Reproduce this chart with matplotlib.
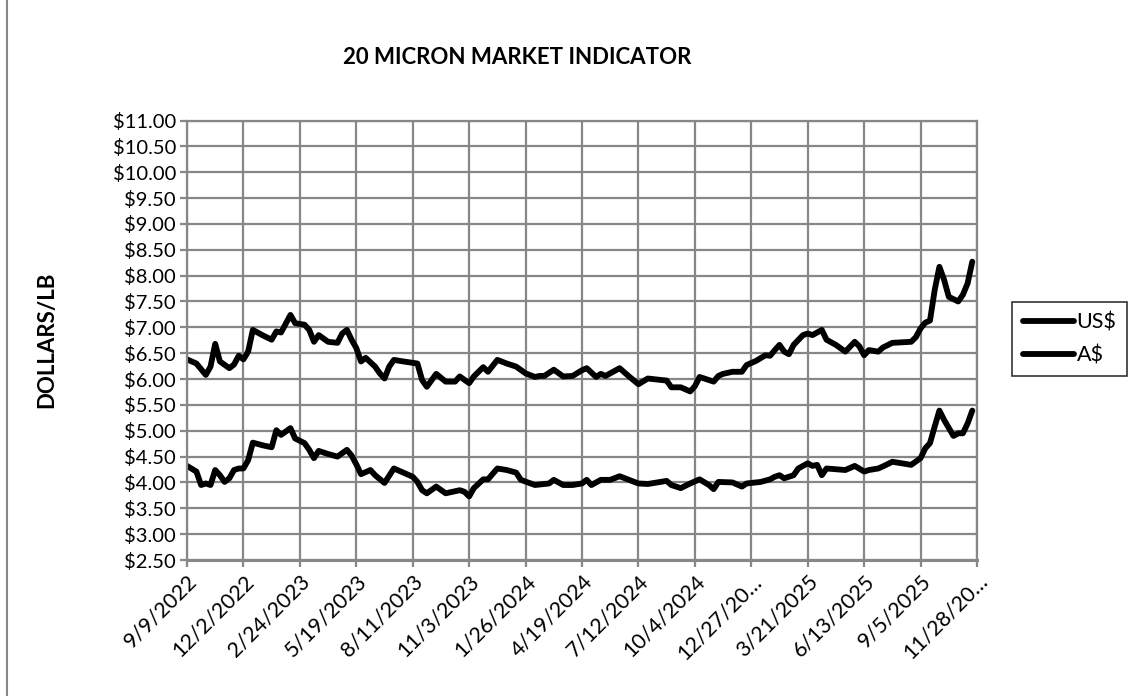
import matplotlib.pyplot as plt
from matplotlib.lines import Line2D
from matplotlib.transforms import ScaledTranslation

# week offsets from 9/9/2022 and prices (dollars per lb)
weeks_us = [0, 2, 3, 4, 5, 6, 7, 8, 9, 10, 11, 12, 13, 14, 16, 18, 19, 20, 22, 23,
            25, 26, 27, 28, 30, 32, 34, 35, 36, 37, 39, 40, 42, 44, 46, 48, 49, 50,
            51, 53, 55, 58, 59, 60, 61, 63, 64, 66, 68, 70, 71, 74, 77, 78, 80, 82,
            84, 85, 86, 88, 90, 92, 94, 96, 98, 100, 102, 103, 105, 107, 109, 111,
            112, 113, 116, 118, 119, 122, 124, 125, 126, 127, 129, 130, 132, 133,
            134, 135, 136, 140, 142, 144, 145, 147, 148, 150, 154, 156, 157, 158,
            159, 160, 161, 163, 164, 165, 166, 167]
us = [4.32, 4.21, 3.95, 3.98, 3.95, 4.24, 4.14, 4.01, 4.08, 4.24, 4.27, 4.27, 4.43,
      4.77, 4.72, 4.68, 5.01, 4.92, 5.05, 4.85, 4.76, 4.63, 4.47, 4.61, 4.55, 4.50,
      4.63, 4.52, 4.35, 4.16, 4.24, 4.14, 3.99, 4.27, 4.19, 4.11, 4.01, 3.85, 3.79,
      3.92, 3.79, 3.85, 3.82, 3.73, 3.89, 4.06, 4.06, 4.27, 4.24, 4.19, 4.05, 3.95,
      3.98, 4.05, 3.95, 3.95, 3.98, 4.05, 3.95, 4.05, 4.05, 4.12, 4.05, 3.98, 3.97,
      4.00, 4.03, 3.95, 3.89, 3.98, 4.06, 3.95, 3.87, 4.01, 4.00, 3.92, 3.98, 4.01,
      4.06, 4.11, 4.14, 4.08, 4.14, 4.27, 4.37, 4.32, 4.34, 4.14, 4.27, 4.24, 4.32,
      4.21, 4.24, 4.27, 4.31, 4.40, 4.34, 4.47, 4.66, 4.76, 5.08, 5.39, 5.21, 4.90,
      4.95, 4.95, 5.14, 5.39]

weeks_aud = [0, 2, 4, 5, 6, 7, 9, 10, 11, 12, 13, 14, 16, 18, 19, 20, 22, 23, 25,
             26, 27, 28, 30, 32, 33, 34, 35, 36, 37, 38, 40, 41, 42, 43, 44, 46, 49,
             50, 51, 53, 55, 57, 58, 60, 61, 63, 64, 66, 68, 70, 72, 74, 75, 76, 78,
             80, 82, 84, 85, 87, 88, 89, 92, 94, 96, 98, 102, 103, 105, 107, 108,
             109, 112, 113, 114, 116, 118, 119, 121, 123, 124, 125, 126, 127, 128,
             129, 131, 132, 133, 135, 136, 138, 140, 142, 143, 144, 145, 147, 148,
             150, 154, 155, 156, 157, 158, 159, 160, 161, 162, 164, 165, 166, 167]
aud = [6.38, 6.30, 6.08, 6.24, 6.68, 6.34, 6.21, 6.28, 6.45, 6.38, 6.53, 6.95, 6.85,
       6.76, 6.92, 6.90, 7.24, 7.08, 7.05, 6.95, 6.72, 6.85, 6.72, 6.70, 6.88, 6.95,
       6.76, 6.60, 6.34, 6.41, 6.24, 6.11, 6.01, 6.24, 6.37, 6.34, 6.30, 5.98, 5.85,
       6.10, 5.95, 5.95, 6.05, 5.92, 6.05, 6.23, 6.14, 6.37, 6.30, 6.24, 6.11, 6.04,
       6.06, 6.06, 6.18, 6.05, 6.06, 6.17, 6.21, 6.04, 6.10, 6.06, 6.21, 6.05, 5.90,
       6.01, 5.97, 5.84, 5.84, 5.76, 5.86, 6.04, 5.95, 6.06, 6.10, 6.14, 6.14, 6.27,
       6.35, 6.46, 6.45, 6.56, 6.66, 6.53, 6.48, 6.66, 6.85, 6.88, 6.85, 6.95, 6.76,
       6.66, 6.53, 6.72, 6.63, 6.46, 6.56, 6.53, 6.61, 6.70, 6.72, 6.81, 6.98, 7.09,
       7.13, 7.72, 8.17, 7.92, 7.59, 7.50, 7.63, 7.85, 8.27]

tick_weeks = [0, 12, 24, 36, 48, 60, 72, 84, 96, 108, 120, 132, 144, 156, 168]
tick_labels = ["9/9/2022", "12/2/2022", "2/24/2023", "5/19/2023", "8/11/2023",
               "11/3/2023", "1/26/2024", "4/19/2024", "7/12/2024", "10/4/2024",
               "12/27/20\u2026", "3/21/2025", "6/13/2025", "9/5/2025", "11/28/20\u2026"]
y_ticks = [2.5 + 0.5 * i for i in range(18)]

plt.rcParams['font.family'] = ['Lato', 'DejaVu Sans']
grid_col = "#878787"

fig = plt.figure(figsize=(11.44, 6.96), dpi=100)
ax = fig.add_axes([187 / 1144, 1 - 560 / 696, 790 / 1144, 439.5 / 696])

line_kw = dict(color="black", lw=4.2, solid_joinstyle="round", solid_capstyle="round")
ax.plot(weeks_us, us, label="US$", **line_kw)
ax.plot(weeks_aud, aud, label="A$", **line_kw)

ax.set_xlim(0, 168)
ax.set_ylim(2.5, 11.0)
ax.set_xticks(tick_weeks)
ax.set_xticklabels(tick_labels, rotation=45, ha="right", va="top",
                   rotation_mode="anchor", fontsize=15.5)
shift = ScaledTranslation(9 / 100, 0, fig.dpi_scale_trans)
for lab in ax.get_xticklabels():
    lab.set_transform(lab.get_transform() + shift)
ax.set_yticks(y_ticks)
ax.set_yticklabels(["${:.2f}".format(v) for v in y_ticks], fontsize=14.5)
ax.grid(True, color=grid_col, lw=1.6)
ax.set_axisbelow(True)
ax.tick_params(axis="both", direction="out", length=5, width=1.6, color=grid_col,
               pad=3)
for side in ["top", "right", "left"]:
    ax.spines[side].set_color(grid_col)
    ax.spines[side].set_linewidth(1.6)
ax.spines["bottom"].set_color(grid_col)
ax.spines["bottom"].set_linewidth(2.2)

ax.set_ylabel("DOLLARS/LB", fontsize=16, fontweight="bold")
ax.yaxis.set_label_coords((57 - 187) / 790, 0.5)
fig.text(517 / 1144, 1 - 58 / 696, "20 MICRON MARKET INDICATOR", fontsize=16,
         fontweight="bold", ha="center", va="center")

# legend box on the right
leg = ax.legend(loc="upper left", bbox_to_anchor=(1012 / 1144, 1 - 302 / 696),
                bbox_transform=fig.transFigure, frameon=True, fancybox=False,
                fontsize=15.5, handlelength=2.4, handletextpad=0.1,
                borderpad=0.5, labelspacing=0.6, borderaxespad=0)
leg.get_frame().set_edgecolor("black")
leg.get_frame().set_linewidth(1.2)

# left edge of the chart border
fig.add_artist(Line2D([7 / 1144, 7 / 1144], [0, 1], transform=fig.transFigure,
                      color=grid_col, lw=1.5))

fig.savefig("out.png", dpi=100)
